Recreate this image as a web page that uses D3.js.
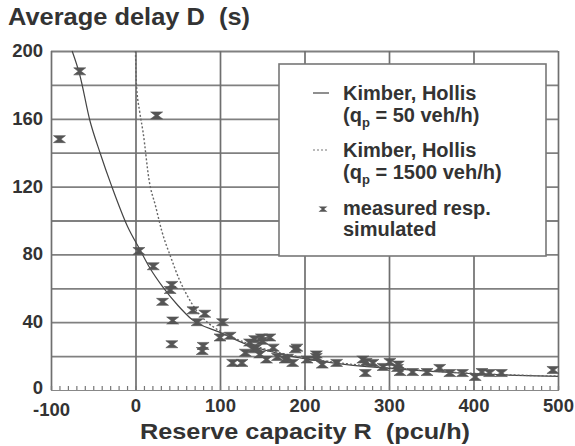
<!DOCTYPE html>
<html><head><meta charset="utf-8">
<script src="https://cdn.jsdelivr.net/npm/d3@7"></script>
<style>
body{margin:0;background:#fff;}
text{font-family:"Liberation Sans",Arial,sans-serif;font-weight:bold;fill:#333;white-space:pre;}
</style></head>
<body><svg id="c" width="575" height="446"></svg>
<script>
// Data
const xTicks = [-100, 0, 100, 200, 300, 400, 500];
const yTicks = [0, 40, 80, 120, 160, 200];
const yGrid = [20, 40, 60, 80, 100, 120, 140, 160, 180, 200];
const curveQp50 = [[-75,200],[-66,186],[-54,159],[-42,140],[-28,120],[-9,96],[5,83],[17,72],[32,61],[50,50],[67,41.5],[100,34],[131,27],[170,21.5],[200,18.5],[250,15],[300,12.8],[350,11],[400,9.6],[450,8.6],[500,8]];
const curveQp1500 = [[0,200],[1,181],[5,164],[9,152],[16,124],[24,108],[31,94],[42,78],[52,65],[62,55],[72,47],[85,40],[99,35],[130,28],[170,22],[200,19],[250,15.5],[300,13],[350,11.2],[400,9.8],[450,8.8],[500,8.2]];
const measuredR = [-90,-66,25,4,21,43,41,32,44,43,68,82,73,80,79,103,100,112,115,126,130,135,139,141,143,147,149,150,155,159,163,168,177,180,186,189,191,203,214,214,221,238,269,272,273,281,293,301,310,311,313,328,345,360,372,387,402,410,419,433,494];
const measuredD = [148,188,162,82,73,62,59,52,41,27,47,45,40,26,23,40,31,32,16,16,22,28,24,30,25,21,31,29,18,31,25,19.5,18,19,16,24,25,18,21,19.5,15,16,18,10,16.5,16,13.6,16.5,13,15,10.6,10.6,10.6,13,10,10,7.7,10.6,10,10,11.8];
const legendLabels = [["Kimber, Hollis", "(q", "p", " = 50 veh/h)"], ["Kimber, Hollis", "(q", "p", " = 1500 veh/h)"]];

const svg = d3.select("#c");
const x = d3.scaleLinear().domain([-100, 500]).range([51, 558]);
const y = d3.scaleLinear().domain([0, 200]).range([390, 51]);
const gridCol = "#808080";
const fam = "Liberation Sans, Arial, sans-serif";

// horizontal grid
svg.append("g").attr("transform", `translate(${x(-100)},0)`)
  .call(d3.axisLeft(y).tickValues(yGrid).tickSize(-(x(500) - x(-100))).tickFormat(""))
  .call(g => g.select(".domain").remove())
  .call(g => g.selectAll("line").attr("stroke", gridCol).attr("stroke-width", 1.8));
// vertical grid
svg.append("g").attr("transform", `translate(0,${y(0)})`)
  .call(d3.axisBottom(x).tickValues(xTicks).tickSize(-(y(0) - y(200))).tickFormat(""))
  .call(g => g.select(".domain").remove())
  .call(g => g.selectAll("line").attr("stroke", "#6f6f6f").attr("stroke-width", 1.7));
// minor ticks along the x axis
svg.append("g").attr("transform", `translate(0,${y(0)})`)
  .call(d3.axisBottom(x).tickValues(d3.range(-100, 501, 10)).tickSize(-4).tickFormat(""))
  .call(g => g.select(".domain").attr("stroke", "#888").attr("stroke-width", 1.2))
  .call(g => g.selectAll("line").attr("stroke", "#777").attr("stroke-width", 1.2));

// tick labels
svg.append("g").attr("transform", `translate(${x(-100) - 8},0)`)
  .call(d3.axisLeft(y).tickValues(yTicks).tickSize(0).tickPadding(0).tickFormat(d => String(d)))
  .call(g => g.select(".domain").remove())
  .call(g => g.selectAll("text").attr("font-size", 18.5).attr("font-family", fam).attr("font-weight", "bold").attr("fill", "#333")
    .attr("dy", d => d === 0 ? "0.18em" : "0.3em"));
svg.append("g").attr("transform", `translate(0,${y(0) + 9})`)
  .call(d3.axisBottom(x).tickValues(xTicks).tickSize(0).tickPadding(0).tickFormat(d => String(d)))
  .call(g => g.select(".domain").remove())
  .call(g => g.selectAll("text").attr("font-size", 18.5).attr("font-family", fam).attr("font-weight", "bold").attr("fill", "#333")
    .attr("dy", d => d === -100 ? "0.9em" : "0.72em"));

// titles
svg.append("text").attr("x", 8).attr("y", 25).attr("font-size", 24)
  .attr("textLength", 242).attr("lengthAdjust", "spacingAndGlyphs").text("Average delay D  (s)");
svg.append("text").attr("x", 140).attr("y", 439).attr("font-size", 22)
  .attr("textLength", 330).attr("lengthAdjust", "spacingAndGlyphs").text("Reserve capacity R  (pcu/h)");

// curves
const line = d3.line().x(d => x(d[0])).y(d => y(d[1])).curve(d3.curveMonotoneX);
svg.append("path").datum(curveQp50).attr("d", line).attr("fill", "none").attr("stroke", "#444").attr("stroke-width", 1.2);
svg.append("path").datum(curveQp1500).attr("d", line).attr("fill", "none").attr("stroke", "#666").attr("stroke-width", 1.4).attr("stroke-dasharray", "2,2");

// markers
const marker = "M-6,-3.5L6,-3.5L1.5,0L6,3.5L-6,3.5L-1.5,0Z";
svg.append("g").selectAll("path").data(measuredR.map((r, i) => [r, measuredD[i]])).join("path")
  .attr("transform", d => `translate(${x(d[0])},${y(d[1])})`)
  .attr("d", marker).attr("fill", "#555").attr("stroke", "#555").attr("stroke-width", 0.6);

// legend
const lg = svg.append("g");
lg.append("rect").attr("x", 279).attr("y", 64).attr("width", 267).attr("height", 192)
  .attr("fill", "#fff").attr("stroke", "#777").attr("stroke-width", 1.6);
const tops = [100, 157];
legendLabels.forEach((lab, i) => {
  lg.append("text").attr("x", 343).attr("y", tops[i]).attr("font-size", 20).text(lab[0]);
  const t = lg.append("text").attr("x", 343).attr("y", tops[i] + 22).attr("font-size", 20);
  t.append("tspan").text(lab[1]);
  t.append("tspan").attr("font-size", 13).attr("dy", 5).text(lab[2]);
  t.append("tspan").attr("dy", -5).text(lab[3]);
  lg.append("line").attr("x1", 313).attr("x2", 329).attr("y1", tops[i] - 7).attr("y2", tops[i] - 7)
    .attr("stroke", i === 0 ? "#444" : "#777").attr("stroke-width", 1.2).attr("stroke-dasharray", i === 0 ? null : "2,2");
});
lg.append("path").attr("transform", "translate(323,209) scale(0.75)").attr("d", marker).attr("fill", "#555");
lg.append("text").attr("x", 343).attr("y", 215).attr("font-size", 20).text("measured resp.");
lg.append("text").attr("x", 343).attr("y", 236).attr("font-size", 20).text("simulated");
</script></body></html>
